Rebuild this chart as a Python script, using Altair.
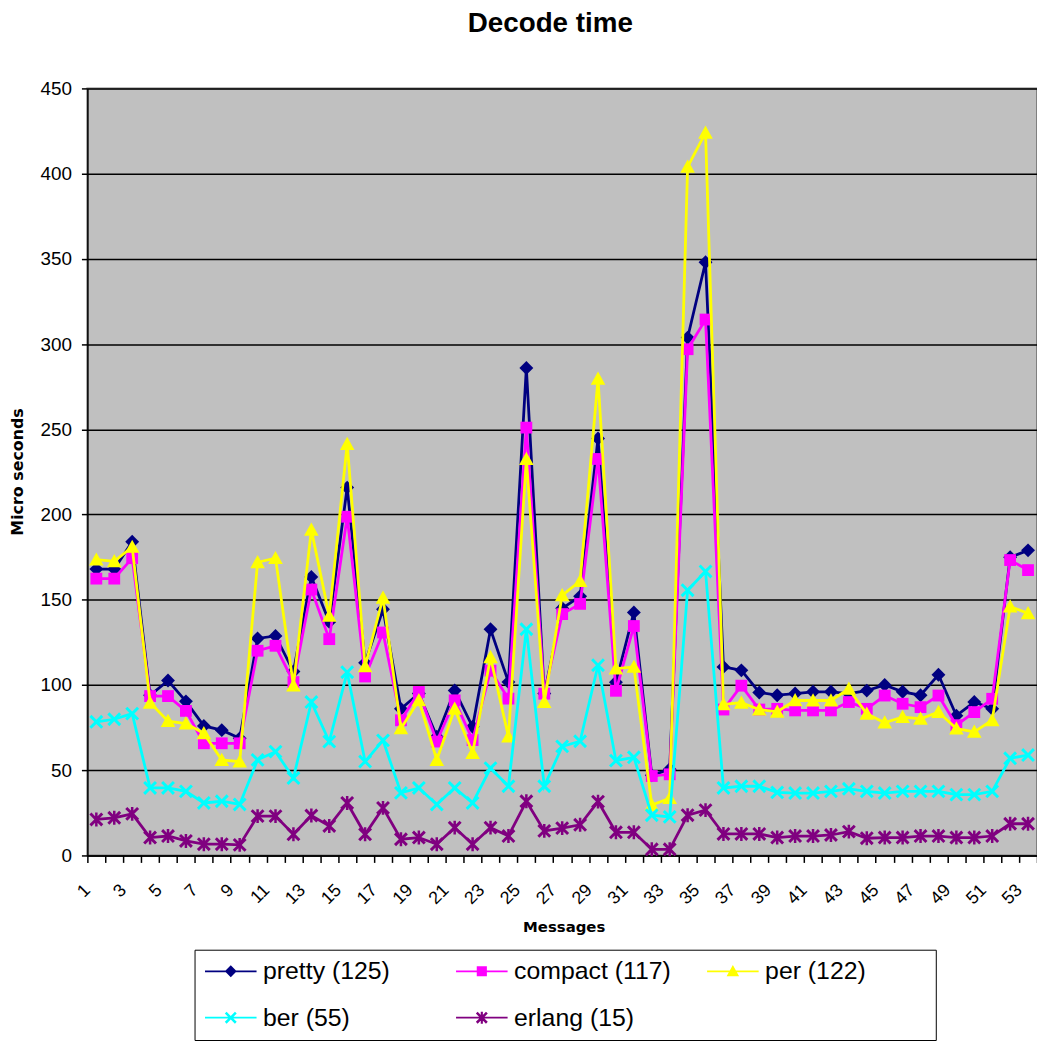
import altair as alt
import pandas as pd

messages = list(range(1, 54))

pretty = [168, 168, 184, 94, 102.6, 90.4, 76, 73.5, 68.7, 127.3,
          128.8, 107.9, 163.4, 137, 215.8, 113, 144.4, 86, 95, 69.7,
          96.8, 75.5, 132.7, 101.7, 286, 95, 145, 152, 244.6, 101.6,
          142.6, 47, 50.6, 303.8, 348, 110.6, 108.6, 95.6, 94, 95,
          96, 96, 95, 96.7, 100, 96, 94, 106, 82, 90,
          86, 175, 179]
compact = [162.4, 162.4, 174.4, 93.5, 93.5, 84.8, 65.8, 65.8, 65.8, 120.1,
           123, 101.7, 156, 126.9, 198.7, 105, 130.8, 79.3, 95.9, 66.8,
           91, 67.7, 108.4, 92, 251, 94.9, 141.6, 147.6, 232.6, 96.6,
           134.6, 46.6, 47.6, 297, 314.4, 85.6, 99.6, 85.6, 86, 85.1,
           85.1, 85.1, 90, 86, 93.8, 89, 87, 93.8, 76.4, 84.1,
           91.9, 173.3, 167.4]
per = [173.5, 172.5, 181, 89.6, 78.8, 77.4, 71.6, 56, 55, 172,
       174.4, 99.7, 191, 140.5, 241.4, 111, 151.2, 74.5, 91, 56,
       86, 60, 116.2, 69.7, 232.6, 90, 152.6, 161, 279.6, 109.6,
       110.6, 29.6, 33.6, 404, 424, 88.6, 89.6, 85.6, 84.3, 91,
       90.9, 90.9, 97.7, 83.1, 77.9, 81.2, 80.2, 84.1, 74.4, 72.5,
       79.3, 146, 142]
ber = [78.4, 79.9, 83.2, 39.6, 39.6, 37.6, 30.8, 31.8, 29.9, 56.1,
       60.9, 45.4, 90, 66.8, 107.5, 55.1, 67.5, 36.7, 39.6, 29.9,
       39.6, 30.8, 51.2, 40.6, 132.7, 40.6, 64, 67, 111.6, 55.6,
       57.6, 23.6, 22.6, 155.6, 166.6, 39.6, 40.6, 40.6, 37, 36.6,
       36.6, 37.6, 39.1, 37.6, 36.6, 37.6, 37.6, 37.6, 35.7, 35.7,
       37.6, 57, 58.9]
erlang = [21.1, 22.1, 24.4, 10.5, 11.4, 8.5, 6.6, 6.6, 6.2, 23.1,
          23.1, 12.4, 23.4, 17.3, 30.8, 12.4, 27.9, 9.5, 10.5, 6.6,
          16.3, 6.6, 16.3, 11.4, 31.8, 14.4, 16, 18, 31.6, 13.6,
          13.6, 3.6, 3.6, 23.6, 26.6, 12.6, 12.6, 12.6, 10.5, 11.4,
          11.4, 12, 14, 10.1, 10.5, 10.5, 11.4, 11.4, 10.5, 10.5,
          11.4, 18.6, 18.6]

series_names = ["pretty (125)", "compact (117)", "per (122)", "ber (55)", "erlang (15)"]
series_values = [pretty, compact, per, ber, erlang]
series_colors = ["#000080", "#FF00FF", "#FFFF00", "#00FFFF", "#800080"]
y_ticks = [0, 50, 100, 150, 200, 250, 300, 350, 400, 450]

# marker outlines (unit box -1..1)
DIAMOND = "M0,-1L1,0L0,1L-1,0Z"
SQUARE = "M-0.85,-0.85H0.85V0.85H-0.85Z"
TRIANGLE = "M0,-1.05L1.05,0.85L-1.05,0.85Z"
XMARK = ("M-0.7,-1L0,-0.3L0.7,-1L1,-0.7L0.3,0L1,0.7L0.7,1L0,0.3"
         "L-0.7,1L-1,0.7L-0.3,0L-1,-0.7Z")
STAR = XMARK + "M-0.18,-1H0.18V1H-0.18Z"
marker_paths = [DIAMOND, SQUARE, TRIANGLE, XMARK, STAR]
LEGEND_LINE = "M-4.33,-0.15H4.33V0.15H-4.33Z"
legend_paths = [LEGEND_LINE + p for p in marker_paths]

rows = []
for name, vals in zip(series_names, series_values):
    for m, v in zip(messages, vals):
        rows.append({"message": m, "series": name, "value": v})
df = pd.DataFrame(rows)

legend_df = pd.DataFrame({"message": [1] * 5, "series": series_names,
                          "value": [None] * 5})

boundaries = [i + 0.5 for i in range(0, 54)]

x_enc = alt.X(
    "message:Q",
    scale=alt.Scale(domain=[0.5, 53.5], nice=False, zero=False),
    axis=alt.Axis(
        values=boundaries,
        labelExpr="((datum.value + 0.5) % 2 == 1) ? format(datum.value + 0.5, 'd') : ''",
        labelAngle=-45, labelAlign="right", labelBaseline="middle",
        labelPadding=25, labelFont="Liberation Sans", labelFontSize=18,
        labelColor="black", labelOverlap=False, labelFlush=False, labelBound=False,
        tickSize=7, tickColor="black", tickWidth=1.5,
        domainColor="black", domainWidth=1.5, grid=False,
        title="Messages", titleFont="DejaVu Sans", titleFontWeight="bold",
        titleFontSize=15, titleColor="black", titleX=480, titleY=72,
        titleAlign="center", titleBaseline="middle",
    ),
)
y_enc = alt.Y(
    "value:Q",
    scale=alt.Scale(domain=[0, 450], nice=False, zero=True),
    axis=alt.Axis(
        values=y_ticks, grid=True, gridColor="black", gridWidth=1.5, gridOpacity=1,
        tickSize=6, tickColor="black", tickWidth=1.5,
        domainColor="black", domainWidth=1.5,
        labelFont="Liberation Sans", labelFontSize=19, labelColor="black",
        labelPadding=10,
        title="Micro seconds", titleFont="DejaVu Sans", titleFontWeight="bold",
        titleFontSize=16, titleColor="black", titleAngle=270,
        titleX=-70, titleY=386, titleAlign="center", titleBaseline="middle",
    ),
)

layers = []
for name, color, path in zip(series_names, series_colors, marker_paths):
    base = alt.Chart(df).transform_filter(alt.datum.series == name)
    layers.append(base.mark_line(strokeWidth=2.8, color=color).encode(x=x_enc, y=y_enc))
    layers.append(
        base.mark_point(shape=path, filled=True, size=196, opacity=1, color=color)
        .encode(x=x_enc, y=y_enc)
    )

# a fully transparent title on the right keeps the legend frame as wide as the original
legend_props = dict(
    title="xxxxx", titleOrient="right", titleFont="Liberation Sans",
    titleFontSize=20, titlePadding=6, titleColor="rgba(0,0,0,0)",
    orient="none", legendX=108, legendY=868, direction="horizontal",
    columns=3, columnPadding=33, rowPadding=21, gridAlign="all",
    symbolSize=144, symbolOffset=15, labelOffset=20, symbolOpacity=1,
    labelFont="Liberation Sans", labelFontSize=25, labelColor="black",
    labelLimit=400, padding=9, strokeColor="black", fillColor="white",
)

legend_layer = alt.Chart(legend_df).mark_point(filled=True, opacity=1).encode(
    x=x_enc, y=y_enc,
    color=alt.Color("series:N", scale=alt.Scale(domain=series_names, range=series_colors),
                    legend=alt.Legend(**legend_props)),
    shape=alt.Shape("series:N", scale=alt.Scale(domain=series_names, range=legend_paths),
                    legend=alt.Legend(**legend_props)),
)
layers.append(legend_layer)

chart = alt.layer(*layers).properties(
    width=957, height=773,
    title=alt.TitleParams("Decode time", font="Liberation Sans", fontSize=28,
                          fontWeight="bold", color="black", anchor="middle",
                          dx=-12, offset=42),
    autosize=alt.AutoSizeParams(type="none"),
    padding={"left": 80, "top": 77, "right": 0, "bottom": 188},
    background="white",
).configure_view(fill="#C0C0C0", stroke="#808080", strokeWidth=2)

chart.save("out.html", embed_options={"renderer": "svg", "actions": False})
